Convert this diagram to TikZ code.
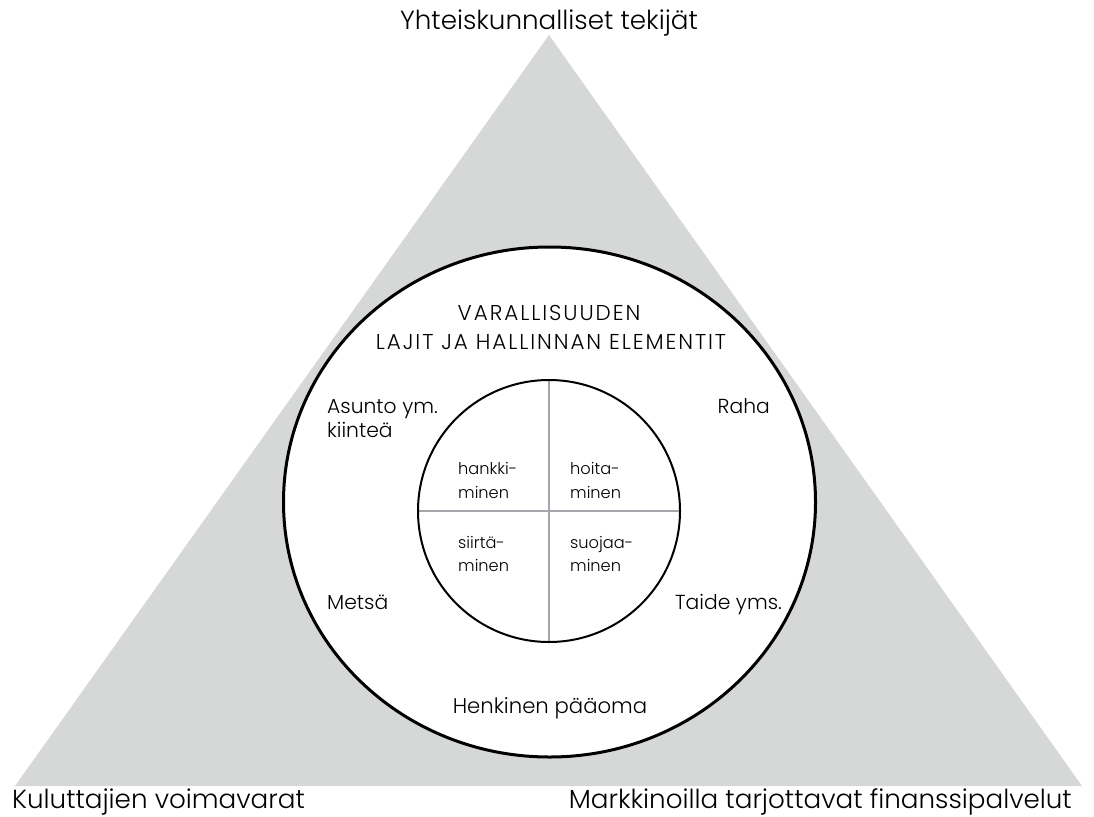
\documentclass[tikz,border=0pt]{standalone}
\usepackage{fontspec}
\setmainfont{Poppins}[UprightFont=* Light]
\definecolor{trigray}{HTML}{D6D8D8}
\definecolor{crossgray}{HTML}{A3A7AB}
\begin{document}
\begin{tikzpicture}[x=1pt,y=-1pt,
  big/.style={inner sep=0pt, font=\fontsize{26.2}{30}\selectfont},
  mid/.style={inner sep=0pt, font=\fontsize{20.3}{24}\selectfont},
  ttl/.style={inner sep=0pt, font=\fontsize{21.5}{24}\selectfont\addfontfeature{LetterSpace=9}},
  small/.style={inner sep=0pt, font=\fontsize{16.2}{20}\selectfont}]
\useasboundingbox (0,0) rectangle (1094,816);
% triangle
\coordinate (tl) at (15,786);
\coordinate (tt) at (549,35);
\coordinate (tr) at (1082,786);
\fill[trigray] (tl) -- (tt) -- (tr) -- cycle;
% outer ellipse
\coordinate (oc) at (549.5,502);
\draw[fill=white, line width=3pt] (oc) ellipse [x radius=266, y radius=255];
% inner circle and cross
\coordinate (ic) at (549,511);
\coordinate (in) at (549,380);
\coordinate (is) at (549,642);
\coordinate (iw) at (418,511);
\coordinate (ie) at (680,511);
\draw[crossgray, line width=2pt] (in) -- (is);
\draw[crossgray, line width=2pt] (iw) -- (ie);
\draw[line width=2pt] (ic) circle (131);
% corner labels
\node[big, anchor=base] (top) at (549,30) {Yhteiskunnalliset tekijät};
\node[big, anchor=base west] (bl) at (12,808) {Kuluttajien voimavarat};
\node[big, anchor=base east] (br) at (1072,808) {Markkinoilla tarjottavat finanssipalvelut};
% title
\node[ttl, anchor=base] (t1) at (549,320) {VARALLISUUDEN};
\node[ttl, anchor=base] (t2) at (551,349) {LAJIT JA HALLINNAN ELEMENTIT};
% ring labels
\node[mid, anchor=base west] (as1) at (327,413) {Asunto ym.};
\node[mid, anchor=base west] (as2) at (327,437) {kiinteä};
\node[mid, anchor=base east] (raha) at (770,413) {Raha};
\node[mid, anchor=base west] (metsa) at (327,609) {Metsä};
\node[mid, anchor=base east] (taide) at (782,609) {Taide yms.};
\node[mid, anchor=base, font=\fontsize{21.2}{24}\selectfont] (henk) at (550,713) {Henkinen pääoma};
% inner labels
\node[small, anchor=base west] (q1a) at (458,474) {hankki-};
\node[small, anchor=base west] (q1b) at (458,498) {minen};
\node[small, anchor=base west] (q2a) at (570,474) {hoita-};
\node[small, anchor=base west] (q2b) at (570,498) {minen};
\node[small, anchor=base west] (q3a) at (458,548) {siirtä-};
\node[small, anchor=base west] (q3b) at (458,571) {minen};
\node[small, anchor=base west] (q4a) at (570,548) {suojaa-};
\node[small, anchor=base west] (q4b) at (570,571) {minen};
\end{tikzpicture}
\end{document}
